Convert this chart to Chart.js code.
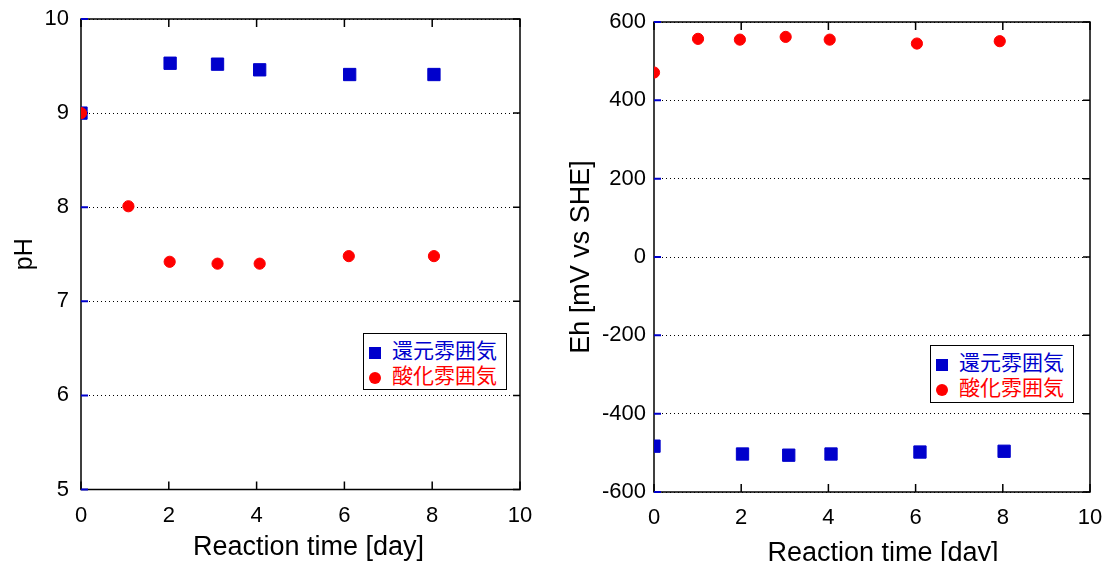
<!DOCTYPE html>
<html>
<head>
<meta charset="utf-8">
<script src="https://cdn.jsdelivr.net/npm/chart.js@4.4.1/dist/chart.umd.min.js"></script>
<style>
html, body { margin: 0; padding: 0; background: #fff; }
#wrap { position: relative; width: 1108px; height: 561px; overflow: hidden; }
.box { position: absolute; top: 0; width: 554px; height: 561px; }
.legend {
    position: absolute; background: #fff; border: 1.5px solid #000; box-sizing: border-box;
    font-family: "Noto Sans CJK JP", sans-serif; font-size: 21px; line-height: 25px; padding: 3px 0 0 5px;
}
.legend .row { height: 25px; white-space: nowrap; }
.legend .mk { display: inline-block; width: 12px; height: 12px; margin-right: 11px; vertical-align: -1px; }
</style>
</head>
<body>
<div id="wrap">
    <div class="box" style="left:0"><canvas id="phChart" width="554" height="561"></canvas></div>
    <div class="box" style="left:554px"><canvas id="ehChart" width="554" height="561"></canvas></div>
    <div class="legend" id="phLegend" style="left:363px; top:333px; width:144px; height:57px"></div>
    <div class="legend" id="ehLegend" style="left:930px; top:345px; width:144px; height:58px"></div>
</div>
<script>
// 系列名
var seriesNames = ['還元雰囲気', '酸化雰囲気'];
var seriesColors = ['#0000cc', '#ff0000'];

// pH (左)
var phDaysBlue = [0, 2.03, 3.11, 4.07, 6.12, 8.04];
var phBlue     = [9.0, 9.53, 9.52, 9.46, 9.41, 9.41];
var phDaysRed  = [0, 1.08, 2.02, 3.11, 4.07, 6.10, 8.04];
var phRed      = [9.0, 8.01, 7.42, 7.40, 7.40, 7.48, 7.48];

// Eh (右)
var ehDaysBlue = [0, 2.03, 3.09, 4.06, 6.10, 8.03];
var ehBlue     = [-483, -503, -506, -503, -498, -496];
var ehDaysRed  = [0, 1.01, 1.97, 3.02, 4.03, 6.03, 7.93];
var ehRed      = [471, 557, 555, 562, 555, 545, 551];

// 軸
var xTitle = 'Reaction time [day]';
var phTitle = 'pH';
var ehTitle = 'Eh [mV vs SHE]';

var chartInstances = {};
var axisFamily = '"Liberation Sans", Arial, sans-serif';

function toPoints(xs, ys) {
    return xs.map(function (x, i) { return { x: x, y: ys[i] }; });
}

// 枠と内向きの目盛り
var framePlugin = {
    id: 'frame',
    beforeDatasetsDraw: function (chart) {
        var a = chart.chartArea, ctx = chart.ctx;
        var xs = chart.scales.x, ys = chart.scales.y;
        ctx.save();
        ctx.lineWidth = 1.5;
        ctx.strokeStyle = '#000';
        ctx.strokeRect(a.left, a.top, a.right - a.left, a.bottom - a.top);
        ctx.beginPath();
        xs.ticks.forEach(function (t) {
            var px = xs.getPixelForValue(t.value);
            ctx.moveTo(px, a.bottom); ctx.lineTo(px, a.bottom - 8);
            ctx.moveTo(px, a.top); ctx.lineTo(px, a.top + 8);
        });
        ys.ticks.forEach(function (t) {
            var py = ys.getPixelForValue(t.value);
            ctx.moveTo(a.right, py); ctx.lineTo(a.right - 7, py);
        });
        ctx.stroke();
        ctx.strokeStyle = '#0000cc';
        ctx.lineWidth = 2;
        ctx.beginPath();
        ys.ticks.forEach(function (t) {
            var py = ys.getPixelForValue(t.value);
            ctx.moveTo(a.left, py); ctx.lineTo(a.left + 7, py);
        });
        ctx.stroke();
        ctx.restore();
    }
};

// x軸タイトル (少し右寄せ)
var xTitlePlugin = {
    id: 'xTitle',
    afterDraw: function (chart, args, opts) {
        var a = chart.chartArea, ctx = chart.ctx;
        ctx.save();
        ctx.font = opts.size + 'px ' + axisFamily;
        ctx.fillStyle = '#000';
        ctx.textAlign = 'center';
        ctx.textBaseline = 'alphabetic';
        ctx.fillText(opts.text, (a.left + a.right) / 2 + opts.dx, a.bottom + opts.dy);
        ctx.restore();
    }
};

function getOptions(yMin, yMax, yStep, yTitle, yTitleSize, yWidth, yTitlePad, yTickPad, pad, xHeight, titleDx, titleDy) {
    var tickFont = { family: axisFamily, size: 22 };
    return {
        responsive: false,
        animation: false,
        layout: { padding: pad },
        plugins: {
            legend: { display: false },
            tooltip: { enabled: false },
            xTitle: { text: xTitle, size: 27, dx: titleDx, dy: titleDy }
        },
        scales: {
            x: {
                type: 'linear', min: 0, max: 10,
                ticks: { stepSize: 2, color: '#000', font: tickFont, padding: 13 },
                grid: { display: false, drawTicks: false },
                border: { display: false },
                afterFit: function (s) {
                    s.height = xHeight;
                    s.paddingLeft = 0;
                    s.paddingRight = 0;
                }
            },
            y: {
                type: 'linear', min: yMin, max: yMax,
                ticks: { stepSize: yStep, color: '#000', font: tickFont, padding: yTickPad },
                grid: { color: '#000', lineWidth: 1, drawTicks: false },
                border: { display: false, dash: [1, 3] },
                title: { display: true, text: yTitle, color: '#000', font: { family: axisFamily, size: yTitleSize }, padding: { top: yTitlePad, bottom: 0 } },
                afterFit: function (s) {
                    s.width = yWidth;
                    s.paddingTop = 0;
                    s.paddingBottom = 0;
                }
            }
        }
    };
}

function getData(dxB, dyB, dxR, dyR) {
    return {
        datasets: [
            {
                label: seriesNames[0], data: toPoints(dxB, dyB), order: 1,
                pointStyle: 'rect', pointRadius: 8.7, borderWidth: 1,
                backgroundColor: seriesColors[0], borderColor: seriesColors[0], showLine: false
            },
            {
                label: seriesNames[1], data: toPoints(dxR, dyR), order: 0,
                pointStyle: 'circle', pointRadius: 5.6, borderWidth: 1,
                backgroundColor: seriesColors[1], borderColor: seriesColors[1], showLine: false
            }
        ]
    };
}

function drawChart(chartType, data, options, plugins, id) {
    if (chartInstances[id]) {
        chartInstances[id].destroy();
    }
    var el = document.getElementById(id);
    if (!el) return;
    chartInstances[id] = new Chart(el.getContext('2d'), {
        type: chartType, data: data, options: options, plugins: plugins || []
    });
}

// 凡例 (HTML)
function buildLegend(id) {
    var box = document.getElementById(id);
    seriesNames.forEach(function (name, i) {
        var row = document.createElement('div');
        row.className = 'row';
        row.style.color = seriesColors[i];
        var mk = document.createElement('span');
        mk.className = 'mk';
        mk.style.background = seriesColors[i];
        if (i === 1) mk.style.borderRadius = '50%';
        row.appendChild(mk);
        row.appendChild(document.createTextNode(name));
        box.appendChild(row);
    });
}

var phOpts = getOptions(5, 10, 1, phTitle, 25, 81, 10, 12, { top: 19, right: 34, bottom: 0, left: 0 }, 71.5, 8, 65.5);
var ehOpts = getOptions(-600, 600, 200, ehTitle, 27, 100, 11, 8, { top: 22, right: 18, bottom: 0, left: 0 }, 69, 11, 68.5);

drawChart('scatter', getData(phDaysBlue, phBlue, phDaysRed, phRed), phOpts, [framePlugin, xTitlePlugin], 'phChart');
drawChart('scatter', getData(ehDaysBlue, ehBlue, ehDaysRed, ehRed), ehOpts, [framePlugin, xTitlePlugin], 'ehChart');
buildLegend('phLegend');
buildLegend('ehLegend');
</script>
</body>
</html>
